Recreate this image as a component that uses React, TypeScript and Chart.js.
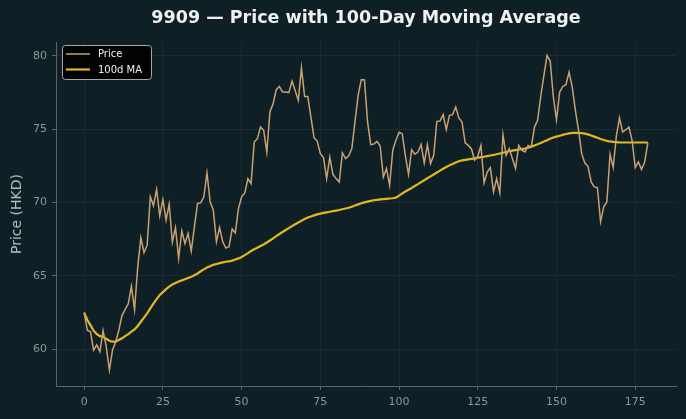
import React, { useEffect, useRef } from "react";
import { Chart, registerables } from "chart.js";

Chart.register(...registerables);

const TITLE = "9909 — Price with 100-Day Moving Average";
const Y_LABEL = "Price (HKD)";
const SERIES_NAMES = ["Price", "100d MA"];
const X_TICKS = [0, 25, 50, 75, 100, 125, 150, 175];
const Y_TICKS = [60, 65, 70, 75, 80];

const PRICE = [
  62.5, 61.3, 61.2, 59.95, 60.3, 59.84, 61.27, 60.2, 58.59, 59.95,
  60.5, 61.3, 62.3, 62.7, 63.1, 64.3, 62.7, 65.6, 67.6, 66.6,
  67.1, 70.4, 69.8, 70.9, 69.1, 70.2, 68.8, 69.9, 67.3, 68.3,
  66.2, 68.07, 67.2, 67.9, 66.7, 68.35, 69.94, 69.98, 70.4, 72.02,
  70.05, 69.5, 67.33, 68.3, 67.33, 66.9, 67.0, 68.2, 67.94, 69.6,
  70.4, 70.66, 71.64, 71.3, 74.13, 74.36, 75.15, 74.93, 73.45, 76.2,
  76.74, 77.7, 77.92, 77.54, 77.54, 77.5, 78.29, 77.65, 76.97, 79.19,
  77.24, 77.24, 75.84, 74.43, 74.2, 73.34, 73.07, 71.64, 73.1, 71.93,
  71.64, 71.4, 73.4, 73.0, 73.2, 73.68, 75.5, 77.31, 78.38, 78.38,
  75.5, 73.95, 74.0, 74.18, 73.86, 71.75, 72.32, 71.18, 73.57, 74.25,
  74.8, 74.7, 73.2, 71.93, 73.6, 73.3, 73.45, 73.97, 72.7, 73.95,
  72.66, 73.23, 75.54, 75.56, 76.0, 74.97, 75.95, 76.0, 76.52, 75.77,
  75.5, 74.07, 73.9, 73.66, 72.9, 73.16, 73.9, 71.34, 72.09, 72.39,
  70.73, 71.64, 70.66, 74.63, 73.23, 73.68, 73.0, 72.32, 73.9, 73.57,
  73.45, 73.9, 73.8, 75.15, 75.61, 77.25, 78.67, 80.03, 79.65, 77.2,
  75.65, 77.54, 77.92, 78.04, 78.9, 77.88, 76.29, 74.93, 73.34, 72.7,
  72.48, 71.41, 71.07, 71.02, 68.69, 69.71, 70.05, 73.3, 72.39, 74.52,
  75.77, 74.81, 74.97, 75.15, 74.25, 72.39, 72.77, 72.25, 72.77, 74.07,
];

const MA_100 = [
  62.5, 62.0, 61.65, 61.27, 61.04, 60.9, 60.86, 60.72, 60.59, 60.52,
  60.52, 60.63, 60.75, 60.9, 61.04, 61.2, 61.36, 61.59, 61.88, 62.16,
  62.45, 62.79, 63.12, 63.42, 63.7, 63.9, 64.1, 64.28, 64.42, 64.52,
  64.62, 64.7, 64.78, 64.86, 64.94, 65.05, 65.17, 65.32, 65.45, 65.58,
  65.67, 65.76, 65.82, 65.88, 65.93, 65.97, 66.0, 66.05, 66.12, 66.2,
  66.3, 66.42, 66.56, 66.7, 66.82, 66.93, 67.04, 67.15, 67.28, 67.42,
  67.56, 67.72, 67.86, 68.0, 68.13, 68.26, 68.4, 68.53, 68.65, 68.77,
  68.88, 68.98, 69.06, 69.13, 69.2, 69.25, 69.3, 69.34, 69.38, 69.42,
  69.46, 69.5, 69.55, 69.6, 69.65, 69.72, 69.8, 69.88, 69.96, 70.02,
  70.07, 70.12, 70.16, 70.19, 70.22, 70.24, 70.26, 70.28, 70.3, 70.34,
  70.48, 70.62, 70.76, 70.88, 71.0, 71.13, 71.26, 71.4, 71.53, 71.66,
  71.79, 71.92, 72.05, 72.18, 72.31, 72.43, 72.54, 72.64, 72.74, 72.82,
  72.88, 72.92, 72.95, 72.98, 73.02, 73.06, 73.1, 73.13, 73.17, 73.21,
  73.25, 73.3, 73.35, 73.4, 73.45, 73.5, 73.54, 73.58, 73.62, 73.65,
  73.69, 73.75, 73.82, 73.9, 73.98, 74.07, 74.16, 74.26, 74.36, 74.44,
  74.5, 74.56, 74.62, 74.68, 74.72, 74.75, 74.76, 74.76, 74.74, 74.7,
  74.65, 74.58, 74.5, 74.42, 74.34, 74.27, 74.21, 74.17, 74.14, 74.12,
  74.1, 74.1, 74.1, 74.1, 74.1, 74.1, 74.1, 74.1, 74.1, 74.1,
];

const W = 686;
const H = 419;
const BG = "#0f1f26";
const PRICE_COLOR = "#c9a172";
const MA_COLOR = "#e3b81f";
const FONT = "'DejaVu Sans', sans-serif";

const overlay = {
  id: "overlay",
  beforeDraw(chart: any) {
    const { ctx } = chart;
    ctx.save();
    ctx.fillStyle = BG;
    ctx.fillRect(0, 0, chart.width, chart.height);
    ctx.restore();
  },
  afterDraw(chart: any) {
    const { ctx, chartArea } = chart;
    ctx.save();
    // title
    ctx.fillStyle = "#f0f0f0";
    ctx.font = `bold 17.5px ${FONT}`;
    ctx.textAlign = "center";
    ctx.textBaseline = "middle";
    ctx.fillText(TITLE, (chartArea.left + chartArea.right) / 2, 18);
    // y label
    ctx.save();
    ctx.translate(17, (chartArea.top + chartArea.bottom) / 2);
    ctx.rotate(-Math.PI / 2);
    ctx.fillStyle = "#b8bcbf";
    ctx.font = `14px ${FONT}`;
    ctx.fillText(Y_LABEL, 0, 0);
    ctx.restore();
    // legend
    const bx = 62.5, by = 45.5, bw = 89, bh = 34;
    ctx.beginPath();
    if ((ctx as any).roundRect) (ctx as any).roundRect(bx, by, bw, bh, 3);
    else ctx.rect(bx, by, bw, bh);
    ctx.fillStyle = "rgba(0,0,0,0.9)";
    ctx.fill();
    ctx.strokeStyle = "#a8a8a8";
    ctx.lineWidth = 1;
    ctx.stroke();
    const colors = [PRICE_COLOR, MA_COLOR];
    const widths = [1.5, 2.2];
    const ys = [54, 69.5];
    SERIES_NAMES.forEach((name, k) => {
      ctx.beginPath();
      ctx.strokeStyle = colors[k];
      ctx.lineWidth = widths[k];
      ctx.moveTo(66, ys[k]);
      ctx.lineTo(90, ys[k]);
      ctx.stroke();
      ctx.fillStyle = "#f0f0f0";
      ctx.font = `10px ${FONT}`;
      ctx.textAlign = "left";
      ctx.textBaseline = "middle";
      ctx.fillText(name, 98, ys[k] + 0.5);
    });
    ctx.restore();
  },
};

export default function App() {
  const ref = useRef<HTMLCanvasElement | null>(null);
  useEffect(() => {
    if (!ref.current) return;
    const gridColor = "#1a2b33";
    const axisColor = "#5c6468";
    const tickText = "#8f969a";
    const chart = new Chart(ref.current, {
      type: "line",
      data: {
        datasets: [
          {
            label: SERIES_NAMES[0],
            data: PRICE.map((y, i) => ({ x: i, y })),
            borderColor: PRICE_COLOR,
            borderWidth: 1.5,
            pointRadius: 0,
            tension: 0,
            fill: false,
          },
          {
            label: SERIES_NAMES[1],
            data: MA_100.map((y, i) => ({ x: i, y })),
            borderColor: MA_COLOR,
            borderWidth: 2.2,
            pointRadius: 0,
            tension: 0,
            fill: false,
          },
        ],
      },
      options: {
        animation: false,
        responsive: false,
        devicePixelRatio: 1,
        layout: { padding: { top: 42, right: 10, left: 0, bottom: 0 } },
        plugins: {
          legend: { display: false },
          title: { display: false },
          tooltip: { enabled: false },
        },
        scales: {
          x: {
            type: "linear",
            min: -8.95,
            max: 187.95,
            afterBuildTicks: (s: any) => {
              s.ticks = X_TICKS.map((v) => ({ value: v }));
            },
            afterFit: (s: any) => {
              s.height = 33;
            },
            grid: { color: gridColor, tickColor: axisColor, tickLength: 4, lineWidth: 1 },
            border: { color: axisColor, width: 1 },
            ticks: { color: tickText, font: { family: FONT, size: 11 }, padding: 6, maxRotation: 0 },
          },
          y: {
            type: "linear",
            min: 57.5,
            max: 80.95,
            afterBuildTicks: (s: any) => {
              s.ticks = Y_TICKS.map((v) => ({ value: v }));
            },
            afterFit: (s: any) => {
              s.width = 56;
            },
            grid: { color: gridColor, tickColor: axisColor, tickLength: 4, lineWidth: 1 },
            border: { color: axisColor, width: 1 },
            ticks: { color: tickText, font: { family: FONT, size: 11 }, padding: 5 },
          },
        },
      },
      plugins: [overlay],
    });
    return () => chart.destroy();
  }, []);
  return (
    <div style={{ position: "fixed", left: 0, top: 0, width: W, height: H, background: BG }}>
      <canvas ref={ref} width={W} height={H} style={{ display: "block", width: W, height: H }} />
    </div>
  );
}
